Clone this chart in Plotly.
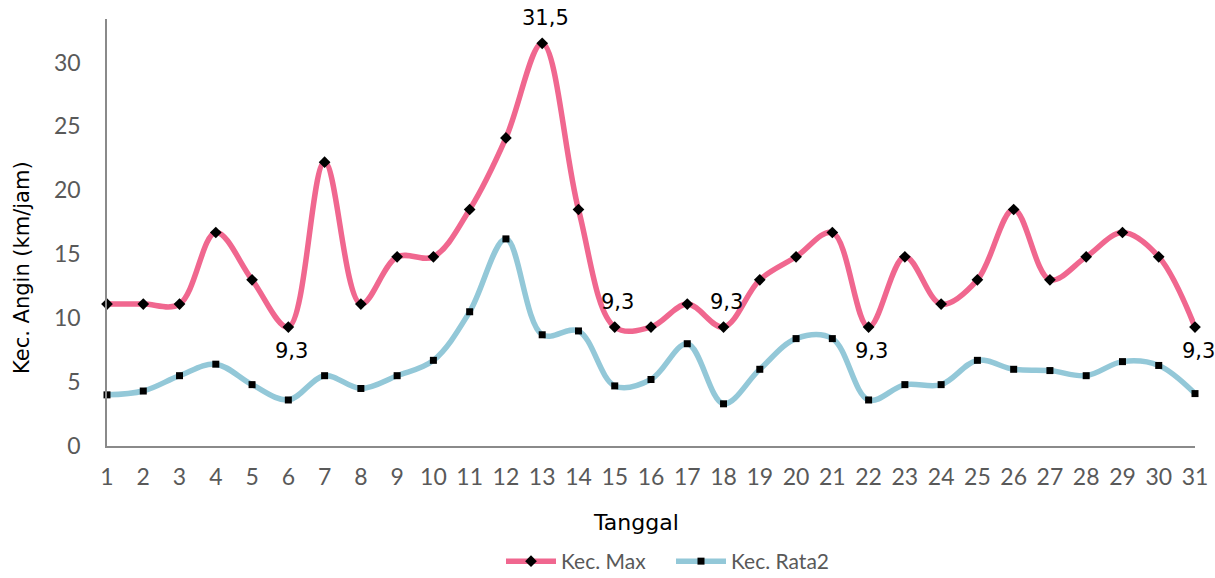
import plotly.graph_objects as go

# Daily wind speed (km/jam) for one month
tanggal = list(range(1, 32))
kec_max = [11.1, 11.1, 11.1, 16.7, 13.0, 9.3, 22.2, 11.1, 14.8, 14.8,
           18.5, 24.1, 31.5, 18.5, 9.3, 9.3, 11.1, 9.3, 13.0, 14.8,
           16.7, 9.3, 14.8, 11.1, 13.0, 18.5, 13.0, 14.8, 16.7, 14.8, 9.3]
kec_rata2 = [4.0, 4.3, 5.5, 6.4, 4.8, 3.6, 5.5, 4.5, 5.5, 6.7,
             10.5, 16.2, 8.7, 9.0, 4.7, 5.2, 8.0, 3.3, 6.0, 8.4,
             8.4, 3.6, 4.8, 4.8, 6.7, 6.0, 5.9, 5.5, 6.6, 6.3, 4.1]
y_ticks = [0, 5, 10, 15, 20, 25, 30]

# Points whose value is written next to the marker: (day, position)
labelled = [(6, "below"), (13, "above"), (15, "above"), (18, "above"),
            (22, "below"), (31, "below")]

PINK = "#F0678F"
BLUE = "#93C8D8"
TICK_FONT = dict(family="Lato", size=23, color="#595959")
TITLE_FONT = dict(family="DejaVu Sans", size=21, color="#000000")

# plot area in pixels
L, R, T, B = 107, 20, 19, 132
W, H = 1215, 578
pw, ph = W - L - R, H - T - B


def px_x(px):
    return (px - L) / pw


def px_y(py):
    return (H - B - py) / ph


fig = go.Figure()
fig.add_trace(go.Scatter(
    x=tanggal, y=kec_max, name="Kec. Max", mode="lines+markers",
    line=dict(color=PINK, width=5.5, shape="spline", smoothing=1.0),
    marker=dict(symbol="diamond", size=9, color="#000000"),
    cliponaxis=False,
))
fig.add_trace(go.Scatter(
    x=tanggal, y=kec_rata2, name="Kec. Rata2", mode="lines+markers",
    line=dict(color=BLUE, width=5.5, shape="spline", smoothing=1.0),
    marker=dict(symbol="square", size=7, color="#000000"),
    cliponaxis=False,
))

for day, pos in labelled:
    v = kec_max[day - 1]
    fig.add_annotation(
        x=day, y=v, xref="x", yref="y",
        text=f"{v:.1f}".replace(".", ","), showarrow=False,
        font=TITLE_FONT,
        yshift=25 if pos == "above" else -24,
        xshift=3,
    )

# Axis titles
fig.add_annotation(
    x=px_x(22), y=px_y(268), xref="paper", yref="paper",
    xanchor="center", yanchor="middle",
    text="Kec. Angin (km/jam)", showarrow=False, textangle=-90,
    font=TITLE_FONT,
)
fig.add_annotation(
    x=px_x(636), y=px_y(522), xref="paper", yref="paper",
    xanchor="center", yanchor="middle",
    text="Tanggal", showarrow=False, font=dict(TITLE_FONT, size=22),
)

fig.update_layout(
    width=W, height=H,
    margin=dict(l=L, r=R, t=T, b=B, autoexpand=False),
    plot_bgcolor="white", paper_bgcolor="white",
    showlegend=True,
    legend=dict(
        orientation="h", x=px_x(671), xanchor="center",
        y=px_y(582), yanchor="bottom",
        font=dict(family="Lato", size=21, color="#595959"),
        itemwidth=50, entrywidth=105, entrywidthmode="pixels",
    ),
    xaxis=dict(
        range=[1, 31], tickmode="array", tickvals=tanggal,
        ticktext=[str(t) for t in tanggal],
        showgrid=False, zeroline=False,
        showline=True, linecolor="#8a8a8a", linewidth=1.5,
        ticks="", tickfont=TICK_FONT, ticklabelstandoff=10,
    ),
    yaxis=dict(
        range=[0, 33.4], tickmode="array", tickvals=y_ticks,
        showgrid=False, zeroline=False,
        showline=True, linecolor="#8a8a8a", linewidth=1.5,
        ticks="", tickfont=TICK_FONT, ticklabelstandoff=20,
    ),
)

fig.write_html("out.html")
